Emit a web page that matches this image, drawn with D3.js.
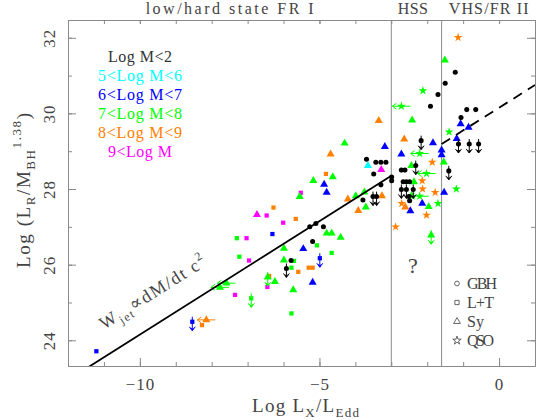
<!DOCTYPE html>
<html>
<head>
<meta charset="utf-8">
<script src="https://cdn.jsdelivr.net/npm/d3@7"></script>
<style>
  body { margin: 0; background: #fff; }
  svg text { font-family: 'Liberation Serif', 'DejaVu Serif', serif; }
</style>
</head>
<body>
<div id="content"></div>
<script>
const width = 538, height = 420;
const plot = { left: 68, right: 535, top: 20, bottom: 366 };

// axes
const xDomain = [-12, 1];
const yDomain = [23.32, 32.47];
const xMajor = [-10, -5, 0];
const xMinor = d3.range(-12, 2);
const yMajor = [24, 26, 28, 30, 32];
const yMinor = d3.range(24, 33);

// accretion regimes
const regimeBounds = [-3, -1.6];
const regimeLabels = ['low/hard state FR I', 'HSS', 'VHS/FR II'];
const regimeLabelX = [-7.5, -2.4, -0.29];

// mass classes (index used in the point arrays)
const massLabels = ['Log M<2', '5<Log M<6', '6<Log M<7', '7<Log M<8', '8<Log M<9', '9<Log M'];
const massColors = ['#000000', '#00ffff', '#0000ff', '#00ff00', '#ff8000', '#ff00ff'];

// points: [log Lx/LEdd, log LR/M^1.38, mass class, limit ('d' down, 'l' left)]
const gbh = [
  [-1.22, 31.09, 0], [-1.50, 30.80, 0], [-1.70, 30.50, 0], [-1.91, 30.19, 0],
  [-0.90, 30.10, 0], [-0.65, 30.10, 0], [-1.06, 29.89, 0],
  [-2.17, 29.28, 0, 'd'], [-1.13, 29.19, 0, 'd'], [-0.83, 29.19, 0, 'd'], [-0.57, 29.19, 0, 'd'],
  [-1.40, 28.48, 0, 'd'], [-2.32, 28.62, 0, 'd'],
  [-3.69, 28.79, 0], [-3.43, 28.71, 0], [-3.29, 28.71, 0], [-3.15, 28.71, 0], [-3.49, 28.40, 0],
  [-2.99, 28.32, 0], [-2.99, 28.22, 0], [-3.29, 28.11, 0], [-3.51, 27.80, 0, 'd'], [-3.41, 27.80, 0, 'd'],
  [-3.79, 27.71, 0],
  [-2.72, 28.50, 0], [-2.62, 28.50, 0], [-2.67, 28.19, 0], [-2.58, 28.19, 0], [-2.49, 28.19, 0],
  [-2.72, 27.99, 0, 'd'], [-2.58, 27.99, 0, 'd'], [-2.39, 27.99, 0, 'd'], [-2.51, 27.80, 0], [-2.49, 27.69, 0],
  [-5.27, 27.00, 0], [-5.10, 27.09, 0], [-4.89, 27.00, 0], [-5.19, 26.61, 0], [-5.79, 26.11, 0],
  [-5.92, 25.90, 0, 'd']
];

const lt = [
  [-7.30, 26.70, 3], [-7.23, 26.21, 3], [-6.90, 25.11, 3, 'd'], [-5.07, 26.51, 3], [-4.66, 26.31, 3],
  [-5.71, 26.10, 3], [-5.78, 25.92, 3], [-5.78, 24.71, 3],
  [-6.47, 27.30, 5], [-7.03, 26.70, 5], [-6.96, 26.11, 5], [-6.01, 27.11, 5], [-5.52, 27.90, 5],
  [-7.35, 25.20, 5], [-6.45, 25.41, 5],
  [-4.82, 28.40, 4], [-6.28, 27.51, 4], [-5.66, 27.21, 4], [-5.59, 25.81, 4], [-6.40, 25.70, 4],
  [-8.27, 24.40, 4], [-5.30, 25.92, 4], [-5.19, 25.92, 4],
  [-11.21, 23.71, 2], [-8.54, 24.49, 2, 'd'], [-6.31, 26.81, 2], [-4.99, 26.17, 2, 'd']
];

const sy = [
  [-5.17, 28.22, 3], [-4.63, 28.32, 3], [-4.30, 29.21, 3], [-5.55, 27.80, 3], [-4.80, 26.83, 3],
  [-4.66, 26.83, 3], [-4.41, 26.72, 3], [-5.99, 26.43, 3], [-5.99, 26.12, 3], [-6.24, 25.55, 3],
  [-6.44, 25.67, 3, 'd'], [-5.73, 25.33, 3], [-7.77, 25.40, 3, 'l'], [-7.59, 25.51, 3, 'l'],
  [-3.99, 27.82, 3], [-3.75, 27.92, 3], [-3.71, 27.52, 3], [-2.42, 29.82, 3], [-1.51, 31.41, 3],
  [-2.44, 28.62, 3], [-1.54, 28.71, 3], [-2.37, 28.19, 3], [-2.44, 27.82, 3], [-1.96, 27.53, 3],
  [-1.89, 26.78, 3, 'd'],
  [-4.87, 28.12, 2], [-4.80, 27.91, 2], [-5.45, 26.42, 2], [-5.19, 25.53, 2], [-3.18, 29.12, 2],
  [-2.72, 28.92, 2], [-1.60, 29.03, 2], [-1.60, 28.90, 2], [-1.84, 29.22, 2], [-1.18, 29.33, 2],
  [-1.07, 29.72, 2], [-0.85, 29.63, 2], [-1.53, 27.91, 2], [-2.14, 27.62, 2], [-2.47, 27.42, 2],
  [-3.35, 29.81, 4], [-4.69, 28.92, 4], [-2.64, 29.32, 4], [-3.26, 27.82, 4], [-4.21, 27.73, 4],
  [-3.92, 27.43, 4], [-2.61, 27.52, 4], [-8.15, 24.54, 4, 'l'],
  [-6.74, 27.32, 5], [-3.28, 28.51, 5],
  [-3.65, 28.62, 1]
];

const qso = [
  [-1.14, 32.01, 4], [-1.86, 28.71, 4], [-2.14, 28.22, 4], [-2.13, 28.00, 4], [-1.78, 27.91, 4],
  [-2.71, 27.62, 4], [-2.02, 27.31, 4], [-2.88, 27.00, 4],
  [-2.12, 30.60, 3], [-2.72, 30.19, 3, 'l'], [-1.39, 29.51, 3], [-1.19, 28.00, 3], [-1.70, 27.62, 3],
  [-2.21, 28.94, 3, 'l'], [-2.02, 28.41, 3, 'l'], [-2.21, 27.81, 3, 'l']
];

// W_jet relation
const jetSlope = 0.6, jetIntercept = 30.15;
const jetSolid = [-11.7, -3];
const jetDashed = [-1.6, 1];

const typeLabels = ['GBH', 'L+T', 'Sy', 'QSO'];

const textColor = '#444';
const frameColor = '#8a8a8a';

const x = d3.scaleLinear().domain(xDomain).range([plot.left, plot.right]);
const y = d3.scaleLinear().domain(yDomain).range([plot.bottom, plot.top]);

const svg = d3.select('#content').append('svg')
  .attr('width', width)
  .attr('height', height)
  .style('display', 'block');

svg.append('defs').append('clipPath').attr('id', 'plotClip')
  .append('rect')
  .attr('x', plot.left).attr('y', plot.top)
  .attr('width', plot.right - plot.left).attr('height', plot.bottom - plot.top);

function styleAxis(g) {
  g.select('.domain').attr('stroke', frameColor);
  g.selectAll('.tick line').attr('stroke', frameColor);
}

// minor ticks on all four sides
svg.append('g').attr('transform', `translate(0,${plot.bottom})`)
  .call(d3.axisBottom(x).tickValues(xMinor).tickSize(-4).tickSizeOuter(0).tickFormat(''))
  .call(styleAxis);
svg.append('g').attr('transform', `translate(0,${plot.top})`)
  .call(d3.axisTop(x).tickValues(xMinor).tickSize(-4).tickSizeOuter(0).tickFormat(''))
  .call(styleAxis);
svg.append('g').attr('transform', `translate(${plot.left},0)`)
  .call(d3.axisLeft(y).tickValues(yMinor).tickSize(-4).tickSizeOuter(0).tickFormat(''))
  .call(styleAxis);
svg.append('g').attr('transform', `translate(${plot.right},0)`)
  .call(d3.axisRight(y).tickValues(yMinor).tickSize(-4).tickSizeOuter(0).tickFormat(''))
  .call(styleAxis);

// major ticks with labels
const xAxis = svg.append('g').attr('transform', `translate(0,${plot.bottom})`)
  .call(d3.axisBottom(x).tickValues(xMajor).tickSize(-8).tickSizeOuter(0))
  .call(styleAxis);
xAxis.selectAll('text')
  .attr('y', 24).attr('dy', 0)
  .attr('fill', textColor)
  .style('font-size', '17px').style('letter-spacing', '1px');

const yAxis = svg.append('g').attr('transform', `translate(${plot.left},0)`)
  .call(d3.axisLeft(y).tickValues(yMajor).tickSize(-8).tickSizeOuter(0))
  .call(styleAxis);
yAxis.selectAll('text')
  .attr('x', 0).attr('y', -13).attr('dy', 0)
  .attr('text-anchor', 'middle')
  .attr('transform', 'rotate(-90)')
  .attr('fill', textColor)
  .style('font-size', '17px').style('letter-spacing', '1px');

svg.append('g').attr('transform', `translate(${plot.right},0)`)
  .call(d3.axisRight(y).tickValues(yMajor).tickSize(-8).tickSizeOuter(0).tickFormat(''))
  .call(styleAxis);
svg.append('g').attr('transform', `translate(0,${plot.top})`)
  .call(d3.axisTop(x).tickValues(xMajor).tickSize(-4).tickSizeOuter(0).tickFormat(''))
  .call(styleAxis);

// regime boundaries
svg.append('g').selectAll('line')
  .data(regimeBounds)
  .join('line')
  .attr('x1', d => x(d)).attr('x2', d => x(d))
  .attr('y1', plot.top).attr('y2', plot.bottom)
  .attr('stroke', frameColor).attr('stroke-width', 1);

const regimeWidths = [168, 30, 80];
svg.append('g').selectAll('text')
  .data(regimeLabels)
  .join('text')
  .attr('x', (d, i) => x(regimeLabelX[i]))
  .attr('y', 14)
  .attr('text-anchor', 'middle')
  .attr('textLength', (d, i) => regimeWidths[i])
  .attr('lengthAdjust', 'spacing')
  .attr('fill', textColor)
  .style('font-size', '16px')
  .text(d => d);

// data points
const symbolType = { gbh: d3.symbolCircle, lt: d3.symbolSquare, sy: d3.symbolTriangle, qso: d3.symbolStar };
const symbolSize = { gbh: 20, lt: 18, sy: 28, qso: 24 };
const pointSets = [['lt', lt], ['sy', sy], ['qso', qso], ['gbh', gbh]];

const pts = svg.append('g').attr('clip-path', 'url(#plotClip)');
pointSets.forEach(([kind, rows]) => {
  const g = pts.append('g').attr('class', kind).selectAll('g')
    .data(rows)
    .join('g')
    .attr('transform', d => `translate(${x(d[0])},${y(d[1])})`);

  // upper limits
  g.filter(d => d[3] === 'd').append('path')
    .attr('d', 'M0,-5V9M-3,5L0,9L3,5M-1.5,6L0,8L1.5,6')
    .attr('fill', 'none')
    .attr('stroke', d => massColors[d[2]])
    .attr('stroke-width', 1);
  g.filter(d => d[3] === 'l').append('path')
    .attr('d', 'M9,0H-9M-5,-3L-9,0L-5,3')
    .attr('fill', 'none')
    .attr('stroke', d => massColors[d[2]])
    .attr('stroke-width', 1);

  g.append('path')
    .attr('d', d3.symbol(symbolType[kind], symbolSize[kind]))
    .attr('fill', d => massColors[d[2]]);
});

// jet power relation
const jetLine = d3.line().x(d => x(d)).y(d => y(jetSlope * d + jetIntercept));
const lines = svg.append('g').attr('clip-path', 'url(#plotClip)');
lines.append('path')
  .attr('d', jetLine(jetSolid))
  .attr('fill', 'none').attr('stroke', '#000').attr('stroke-width', 1.8);
lines.append('path')
  .attr('d', jetLine(jetDashed))
  .attr('fill', 'none').attr('stroke', '#000').attr('stroke-width', 1.8)
  .attr('stroke-dasharray', '10,7');

const angle = Math.atan2(y(jetSlope) - y(0), x(1) - x(0)) * 180 / Math.PI;
const formula = svg.append('text')
  .attr('transform', `translate(104,330) rotate(${angle})`)
  .attr('textLength', 122)
  .attr('lengthAdjust', 'spacing')
  .attr('fill', textColor)
  .style('font-size', '18px');
formula.append('tspan').text('W');
formula.append('tspan').attr('dy', 5).style('font-size', '12px').text('jet');
formula.append('tspan').attr('dy', -5).text('\u221ddM/dt c');
formula.append('tspan').attr('dy', -8).style('font-size', '12px').text('2');

// mass class legend
svg.append('g').selectAll('text')
  .data(massLabels)
  .join('text')
  .attr('x', 140)
  .attr('y', (d, i) => 62 + i * 19)
  .attr('text-anchor', 'middle')
  .attr('textLength', d => d.startsWith('Log') || d.startsWith('9') ? 64 : 84)
  .attr('lengthAdjust', 'spacing')
  .attr('fill', (d, i) => i === 0 ? '#333' : massColors[i])
  .style('font-size', '16px')
  .text(d => d);

// source type legend
const typeSymbols = [d3.symbolCircle, d3.symbolSquare, d3.symbolTriangle, d3.symbolStar];
const typeSizes = [18, 18, 20, 22];
const typeWidths = [30, 27, 17, 27];
const legend = svg.append('g').selectAll('g')
  .data(typeLabels)
  .join('g')
  .attr('transform', (d, i) => `translate(457,${283.5 + i * 19})`);
legend.append('path')
  .attr('d', (d, i) => d3.symbol(typeSymbols[i], typeSizes[i])())
  .attr('fill', 'none').attr('stroke', '#555').attr('stroke-width', 0.9);
legend.append('text')
  .attr('x', 10).attr('y', 5.5)
  .attr('textLength', (d, i) => typeWidths[i])
  .attr('lengthAdjust', 'spacing')
  .attr('fill', textColor)
  .style('font-size', '16px')
  .text(d => d);

svg.append('text')
  .attr('x', x(-2.4)).attr('y', 273)
  .attr('text-anchor', 'middle')
  .attr('fill', textColor)
  .style('font-size', '22px')
  .text('?');

// axis titles
const xTitle = svg.append('text')
  .attr('x', 252).attr('y', 412)
  .attr('textLength', 107)
  .attr('lengthAdjust', 'spacing')
  .attr('fill', textColor)
  .style('font-size', '19px');
xTitle.append('tspan').text('Log  L');
xTitle.append('tspan').attr('dy', 5).style('font-size', '13px').text('X');
xTitle.append('tspan').attr('dy', -5).text('/L');
xTitle.append('tspan').attr('dy', 5).style('font-size', '13px').text('Edd');

const yTitle = svg.append('text')
  .attr('transform', 'translate(30,268) rotate(-90)')
  .attr('textLength', 155)
  .attr('lengthAdjust', 'spacing')
  .attr('fill', textColor)
  .style('font-size', '19px');
yTitle.append('tspan').text('Log (L');
yTitle.append('tspan').attr('dy', 5).style('font-size', '13px').text('R');
yTitle.append('tspan').attr('dy', -5).text('/M');
yTitle.append('tspan').attr('dy', 5).style('font-size', '13px').text('BH');
yTitle.append('tspan').attr('dy', -14).style('font-size', '13px').text('1.38');
yTitle.append('tspan').attr('dy', 9).text(')');
</script>
</body>
</html>
